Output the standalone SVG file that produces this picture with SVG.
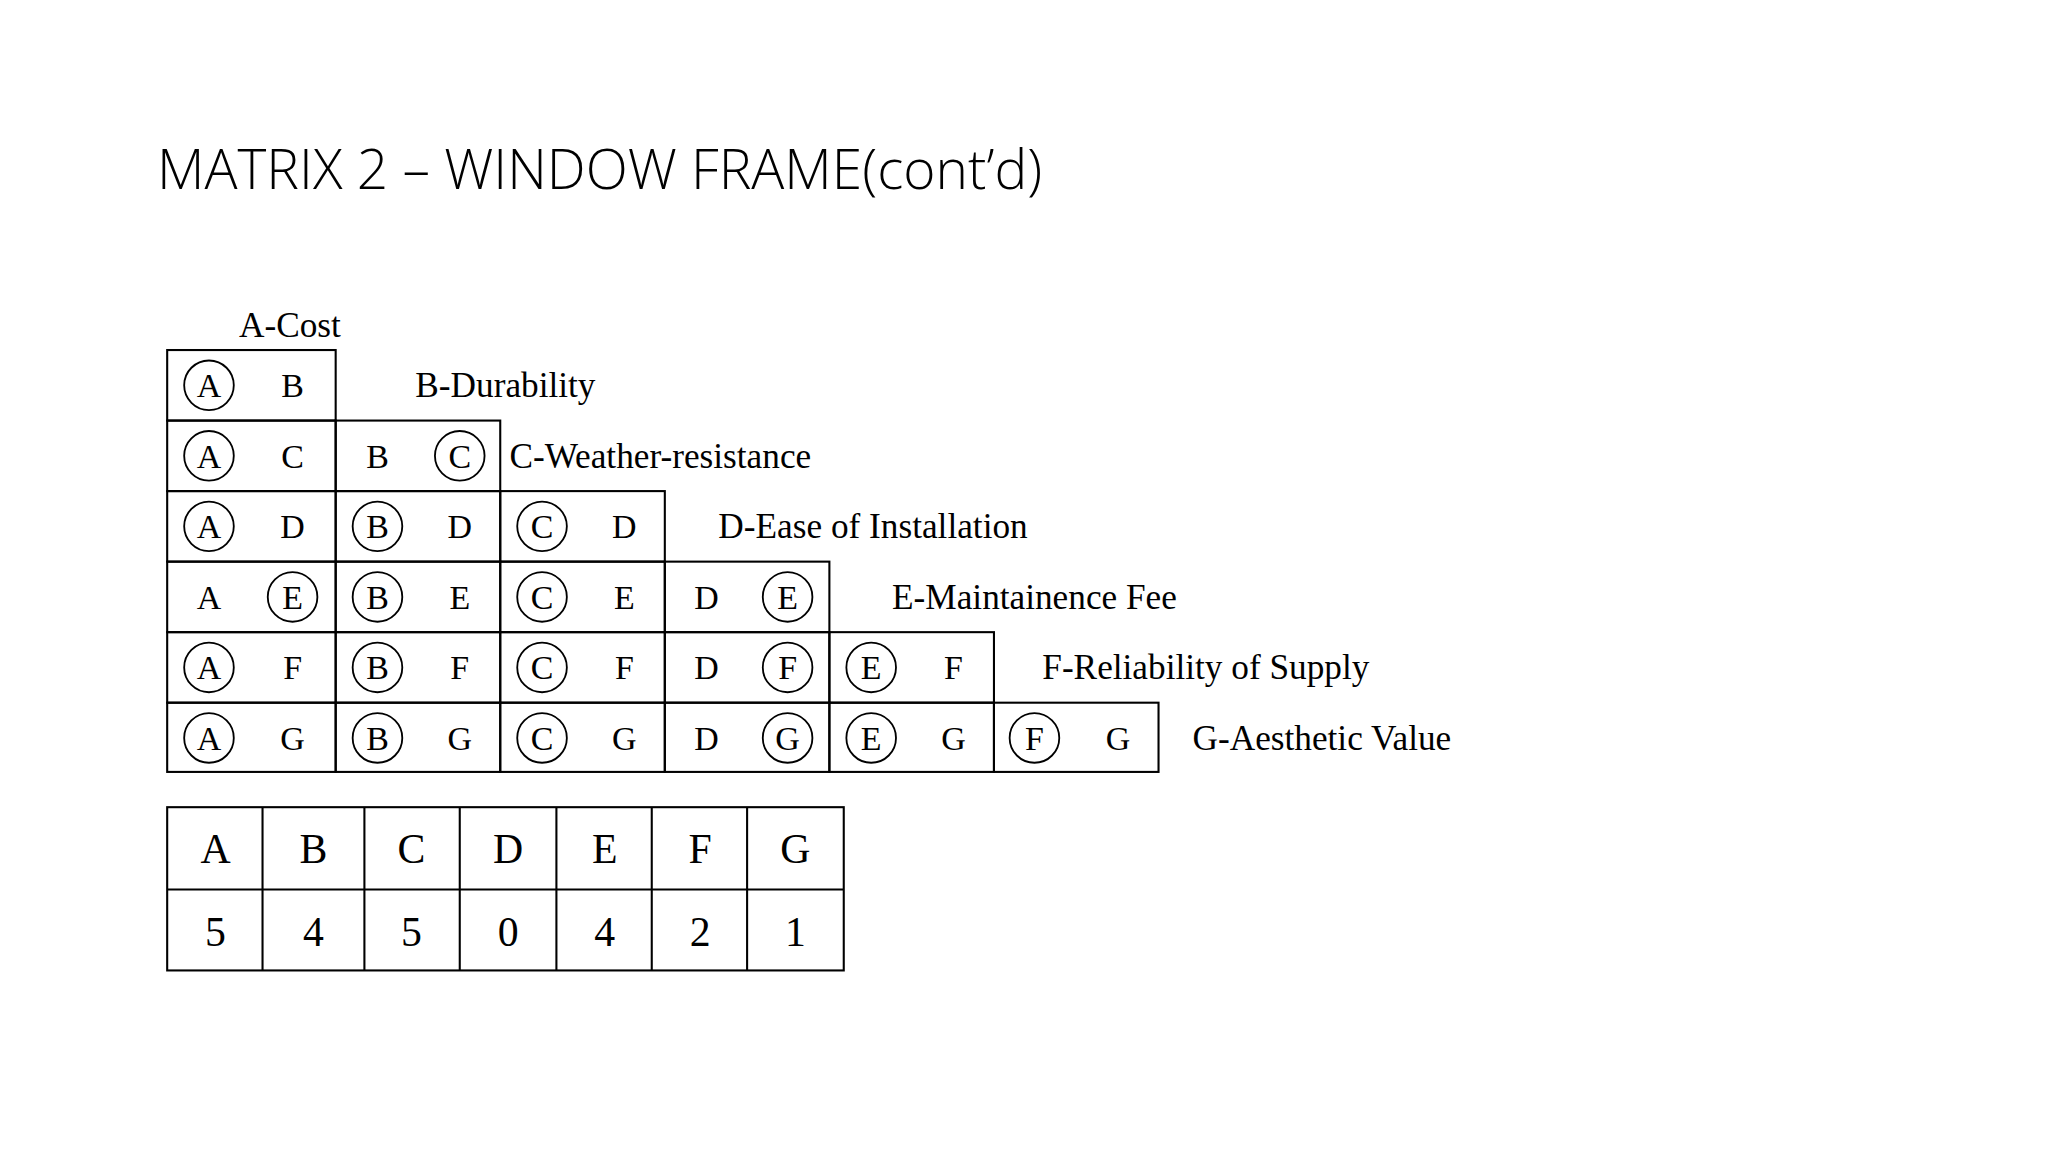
<svg xmlns="http://www.w3.org/2000/svg" width="2048" height="1152" viewBox="0 0 2048 1152">
<style>
.t{font-family:"Liberation Serif",serif;font-size:26px;text-anchor:middle;fill:#000}
.l{font-family:"Liberation Serif",serif;font-size:27px;fill:#000}
.b{font-family:"Liberation Serif",serif;font-size:32px;text-anchor:middle;fill:#000}
.c{fill:none;stroke:#000;stroke-width:1.6}
line{fill:none;stroke:#000;stroke-width:1.6}
circle{fill:none;stroke:#000;stroke-width:1.4}
</style>
<rect x="0" y="0" width="2048" height="1152" fill="#fff"/>
<text x="157" y="189" font-family="Open Sans,sans-serif" font-weight="300" font-size="55" fill="#000">MATRIX 2 – WINDOW FRAME(cont’d)</text>
<g transform="scale(1.30612)">
<g id="labels">
<text class="l" x="183" y="258">A-Cost</text>
<text class="l" x="318" y="304">B-Durability</text>
<text class="l" x="390" y="358">C-Weather-resistance</text>
<text class="l" x="550" y="412">D-Ease of Installation</text>
<text class="l" x="683" y="466">E-Maintainence Fee</text>
<text class="l" x="798" y="520">F-Reliability of Supply</text>
<text class="l" x="913" y="574">G-Aesthetic Value</text>
</g>
<g id="row1"><rect class="c" x="128" y="268" width="129" height="54"/><circle cx="160" cy="295" r="19"/><text class="t" x="160" y="304">A</text><text class="t" x="224" y="304">B</text></g>
<g id="row2">
<rect class="c" x="128" y="322" width="129" height="54"/><circle cx="160" cy="349" r="19"/><text class="t" x="160" y="358">A</text><text class="t" x="224" y="358">C</text>
<rect class="c" x="257" y="322" width="126" height="54"/><text class="t" x="289" y="358">B</text><circle cx="352" cy="349" r="19"/><text class="t" x="352" y="358">C</text>
</g>
<g id="row3">
<rect class="c" x="128" y="376" width="129" height="54"/><circle cx="160" cy="403" r="19"/><text class="t" x="160" y="412">A</text><text class="t" x="224" y="412">D</text>
<rect class="c" x="257" y="376" width="126" height="54"/><circle cx="289" cy="403" r="19"/><text class="t" x="289" y="412">B</text><text class="t" x="352" y="412">D</text>
<rect class="c" x="383" y="376" width="126" height="54"/><circle cx="415" cy="403" r="19"/><text class="t" x="415" y="412">C</text><text class="t" x="478" y="412">D</text>
</g>
<g id="row4">
<rect class="c" x="128" y="430" width="129" height="54"/><text class="t" x="160" y="466">A</text><circle cx="224" cy="457" r="19"/><text class="t" x="224" y="466">E</text>
<rect class="c" x="257" y="430" width="126" height="54"/><circle cx="289" cy="457" r="19"/><text class="t" x="289" y="466">B</text><text class="t" x="352" y="466">E</text>
<rect class="c" x="383" y="430" width="126" height="54"/><circle cx="415" cy="457" r="19"/><text class="t" x="415" y="466">C</text><text class="t" x="478" y="466">E</text>
<rect class="c" x="509" y="430" width="126" height="54"/><text class="t" x="541" y="466">D</text><circle cx="603" cy="457" r="19"/><text class="t" x="603" y="466">E</text>
</g>
<g id="row5">
<rect class="c" x="128" y="484" width="129" height="54"/><circle cx="160" cy="511" r="19"/><text class="t" x="160" y="520">A</text><text class="t" x="224" y="520">F</text>
<rect class="c" x="257" y="484" width="126" height="54"/><circle cx="289" cy="511" r="19"/><text class="t" x="289" y="520">B</text><text class="t" x="352" y="520">F</text>
<rect class="c" x="383" y="484" width="126" height="54"/><circle cx="415" cy="511" r="19"/><text class="t" x="415" y="520">C</text><text class="t" x="478" y="520">F</text>
<rect class="c" x="509" y="484" width="126" height="54"/><text class="t" x="541" y="520">D</text><circle cx="603" cy="511" r="19"/><text class="t" x="603" y="520">F</text>
<rect class="c" x="635" y="484" width="126" height="54"/><circle cx="667" cy="511" r="19"/><text class="t" x="667" y="520">E</text><text class="t" x="730" y="520">F</text>
</g>
<g id="row6">
<rect class="c" x="128" y="538" width="129" height="53"/><circle cx="160" cy="565" r="19"/><text class="t" x="160" y="574">A</text><text class="t" x="224" y="574">G</text>
<rect class="c" x="257" y="538" width="126" height="53"/><circle cx="289" cy="565" r="19"/><text class="t" x="289" y="574">B</text><text class="t" x="352" y="574">G</text>
<rect class="c" x="383" y="538" width="126" height="53"/><circle cx="415" cy="565" r="19"/><text class="t" x="415" y="574">C</text><text class="t" x="478" y="574">G</text>
<rect class="c" x="509" y="538" width="126" height="53"/><text class="t" x="541" y="574">D</text><circle cx="603" cy="565" r="19"/><text class="t" x="603" y="574">G</text>
<rect class="c" x="635" y="538" width="126" height="53"/><circle cx="667" cy="565" r="19"/><text class="t" x="667" y="574">E</text><text class="t" x="730" y="574">G</text>
<rect class="c" x="761" y="538" width="126" height="53"/><circle cx="792" cy="565" r="19"/><text class="t" x="792" y="574">F</text><text class="t" x="856" y="574">G</text>
</g>
<g id="scores">
<rect class="c" x="128" y="618" width="518" height="125"/>
<line x1="128" y1="681" x2="646" y2="681"/>
<line x1="201" y1="618" x2="201" y2="743"/><line x1="279" y1="618" x2="279" y2="743"/><line x1="352" y1="618" x2="352" y2="743"/><line x1="426" y1="618" x2="426" y2="743"/><line x1="499" y1="618" x2="499" y2="743"/><line x1="572" y1="618" x2="572" y2="743"/>
<text class="b" x="165" y="661">A</text><text class="b" x="240" y="661">B</text><text class="b" x="315" y="661">C</text><text class="b" x="389" y="661">D</text><text class="b" x="463" y="661">E</text><text class="b" x="536" y="661">F</text><text class="b" x="609" y="661">G</text>
<text class="b" x="165" y="724">5</text><text class="b" x="240" y="724">4</text><text class="b" x="315" y="724">5</text><text class="b" x="389" y="724">0</text><text class="b" x="463" y="724">4</text><text class="b" x="536" y="724">2</text><text class="b" x="609" y="724">1</text>
</g>
</g>
</svg>
